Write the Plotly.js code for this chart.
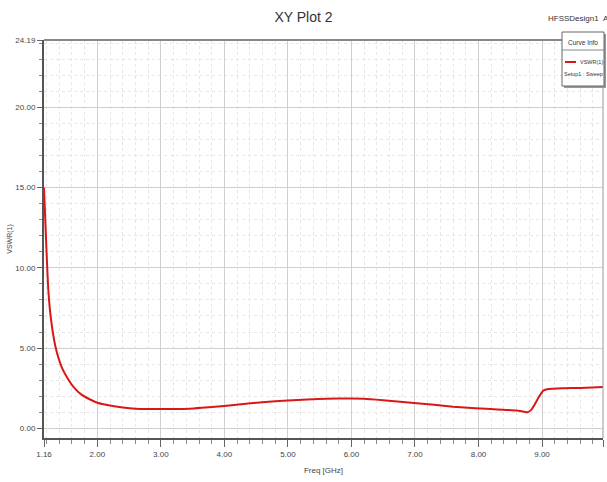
<!DOCTYPE html>
<html>
<head>
<meta charset="utf-8">
<script src="https://cdn.plot.ly/plotly-3.0.1.min.js"></script>
<style>html,body{margin:0;padding:0;background:#fff;}#chart{width:607px;height:482px;}</style>
</head>
<body>
<div id="chart"></div>
<script>
// Data
const freqGHz = [1.16,1.18,1.20,1.23,1.27,1.34,1.44,1.55,1.62,1.75,1.91,2.00,2.20,2.40,2.60,2.80,3.00,3.20,3.45,3.70,4.00,4.30,4.60,5.00,5.30,5.60,6.00,6.20,6.50,6.94,7.30,7.60,7.95,8.30,8.60,8.70,8.77,8.83,8.88,8.95,9.02,9.10,9.35,9.60,9.96];
const vswr    = [15.0,13.0,11.0,8.5,6.8,5.1,3.8,3.0,2.6,2.1,1.75,1.6,1.42,1.3,1.22,1.2,1.2,1.2,1.22,1.3,1.4,1.52,1.63,1.73,1.8,1.85,1.86,1.84,1.75,1.6,1.47,1.35,1.25,1.18,1.12,1.05,1.0,1.15,1.45,1.95,2.35,2.45,2.5,2.52,2.58];
const xTickVals = [1.16,2,3,4,5,6,7,8,9,9.96];
const xTickText = ["1.16","2.00","3.00","4.00","5.00","6.00","7.00","8.00","9.00","9.96"];
const yTickVals = [0,5,10,15,20,24.19];
const yTickText = ["0.00","5.00","10.00","15.00","20.00","24.19"];

const W = 607, H = 482, L = 44, R = 4, T = 40, B = 44;
const pw = W - L - R, ph = H - T - B;
const px = x => (x - L) / pw;
const py = y => 1 - (y - T) / ph;
const FONT = "Liberation Sans Narrow, Liberation Sans, Arial, sans-serif";

const trace = {
  x: freqGHz, y: vswr, type: 'scatter', mode: 'lines',
  line: {color: '#d81818', width: 2, shape: 'spline', smoothing: 0.6},
  name: 'VSWR(1)', showlegend: false, hoverinfo: 'skip'
};

const layout = {
  width: W, height: H,
  margin: {l: L, r: R, t: T, b: B, pad: 0},
  paper_bgcolor: '#ffffff', plot_bgcolor: '#ffffff',
  font: {family: FONT, size: 8, color: '#333'},
  title: {text: 'XY Plot 2', x: 0.5, xanchor: 'center', y: 0.965, yanchor: 'middle',
          font: {family: FONT, size: 14, color: '#333'}},
  xaxis: {
    range: [1.16, 9.96], tickmode: 'array', tickvals: xTickVals, ticktext: xTickText,
    showline: true, linecolor: '#555', linewidth: 2, mirror: false,
    ticks: 'outside', ticklen: 7, tickcolor: '#666', tickwidth: 1,
    showgrid: true, gridcolor: '#cfcfcf', gridwidth: 1, zeroline: false,
    tickfont: {family: FONT, size: 8, color: '#444'},
    minor: {tick0: 0, dtick: 0.2, ticks: 'outside', ticklen: 4, tickcolor: '#888',
            showgrid: true, gridcolor: '#e6e6e6', griddash: 'dot', gridwidth: 1},
    title: {text: 'Freq [GHz]', standoff: 10, font: {family: FONT, size: 8, color: '#444'}}
  },
  yaxis: {
    range: [-0.6, 24.19], tickmode: 'array', tickvals: yTickVals, ticktext: yTickText,
    showline: true, linecolor: '#555', linewidth: 2,
    ticks: 'outside', ticklen: 5, tickcolor: '#666', tickwidth: 1,
    showgrid: true, gridcolor: '#cfcfcf', gridwidth: 1, zeroline: false,
    tickfont: {family: FONT, size: 8, color: '#444'},
    minor: {tick0: 0, dtick: 1, ticks: 'outside', ticklen: 3, tickcolor: '#888',
            showgrid: true, gridcolor: '#e6e6e6', griddash: 'dot', gridwidth: 1},
    title: {text: 'VSWR(1)', standoff: 2, font: {family: FONT, size: 7, color: '#444'}}
  },
  shapes: [
    {type: 'line', xref: 'paper', yref: 'paper', x0: 0, x1: 1, y0: 1, y1: 1, line: {color: '#888', width: 2}},
    {type: 'line', xref: 'paper', yref: 'paper', x0: 1, x1: 1, y0: 0, y1: 1, line: {color: '#999', width: 1}},
    {type: 'rect', xref: 'paper', yref: 'paper', x0: px(564), x1: px(606), y0: py(88), y1: py(34),
     line: {width: 0}, fillcolor: '#9a9a9a'},
    {type: 'rect', xref: 'paper', yref: 'paper', x0: px(562), x1: px(604), y0: py(86), y1: py(32),
     line: {color: '#666', width: 1}, fillcolor: '#ffffff'},
    {type: 'line', xref: 'paper', yref: 'paper', x0: px(562), x1: px(604), y0: py(50), y1: py(50),
     line: {color: '#888', width: 1}},
    {type: 'line', xref: 'paper', yref: 'paper', x0: px(565), x1: px(576), y0: py(62), y1: py(62),
     line: {color: '#d81818', width: 2}}
  ],
  annotations: [
    {xref: 'paper', yref: 'paper', x: px(583), y: py(42), text: 'Curve Info', showarrow: false,
     xanchor: 'center', yanchor: 'middle', font: {family: FONT, size: 6.5, color: '#333'}},
    {xref: 'paper', yref: 'paper', x: px(578), y: py(62), text: 'VSWR(1)', showarrow: false,
     xanchor: 'left', yanchor: 'middle', font: {family: FONT, size: 5.5, color: '#333'}},
    {xref: 'paper', yref: 'paper', x: px(583), y: py(74), text: 'Setup1 : Sweep', showarrow: false,
     xanchor: 'center', yanchor: 'middle', font: {family: FONT, size: 5.5, color: '#333'}},
    {xref: 'paper', yref: 'paper', x: px(573), y: py(18), text: 'HFSSDesign1', showarrow: false,
     xanchor: 'center', yanchor: 'middle', font: {family: FONT, size: 8, color: '#333'}},
    {xref: 'paper', yref: 'paper', x: px(601), y: py(18), text: 'A', showarrow: false,
     xanchor: 'left', yanchor: 'middle', font: {family: FONT, size: 8, color: '#333'}}
  ]
};

Plotly.newPlot('chart', [trace], layout, {displayModeBar: false, staticPlot: true});
</script>
</body>
</html>
